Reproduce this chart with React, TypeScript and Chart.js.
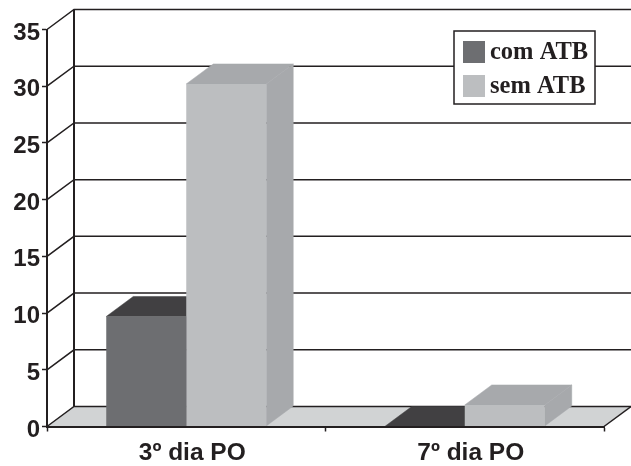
import React, { useEffect, useRef } from "react";
import { Chart, registerables } from "chart.js";

Chart.register(...registerables);

const categories = ["3º dia PO", "7º dia PO"];
const comAtb = [9.7, 0];
const semAtb = [30.2, 1.9];
const seriesLabels = ["com ATB", "sem ATB"];
const frontColors = ["#6d6e71", "#bcbec0"];
const topColors = ["#414042", "#a7a9ac"];
const sideColors = ["#414042", "#a7a9ac"];
const yTicksMax = 35;
const yTicksStep = 5;

const INK = "#231f20";
const FLOOR = "#d1d3d4";
const DX = 27;
const DY = 20;

const poly = (ctx: CanvasRenderingContext2D, pts: number[][], fill: string) => {
  ctx.beginPath();
  pts.forEach((p, i) => (i ? ctx.lineTo(p[0], p[1]) : ctx.moveTo(p[0], p[1])));
  ctx.closePath();
  ctx.fillStyle = fill;
  ctx.fill();
  ctx.strokeStyle = fill;
  ctx.lineWidth = 0.5;
  ctx.stroke();
};

const wallsPlugin = {
  id: "walls",
  beforeDraw(chart: any) {
    const { ctx, scales } = chart;
    const xs = scales.x;
    const ys = scales.y;
    const left = xs.left;
    const right = xs.right;
    const bottom = ys.getPixelForValue(0);
    const top = ys.getPixelForValue(yTicksMax);
    ctx.save();
    ctx.fillStyle = "#ffffff";
    ctx.fillRect(0, 0, chart.width, chart.height);
    poly(
      ctx,
      [
        [left, bottom],
        [right, bottom],
        [right + DX, bottom - DY],
        [left + DX, bottom - DY],
      ],
      FLOOR
    );
    ctx.strokeStyle = INK;
    ctx.lineWidth = 1.5;
    ys.ticks.forEach((t: any) => {
      const y = ys.getPixelForValue(t.value);
      ctx.beginPath();
      ctx.moveTo(left, y);
      ctx.lineTo(left + DX, y - DY);
      ctx.lineTo(right + DX, y - DY);
      ctx.stroke();
    });
    ctx.lineWidth = 2;
    ctx.beginPath();
    ctx.moveTo(left + DX, top - DY);
    ctx.lineTo(left + DX, bottom - DY);
    ctx.stroke();
    ctx.lineWidth = 1.5;
    ctx.beginPath();
    ctx.moveTo(right, bottom);
    ctx.lineTo(right + DX, bottom - DY);
    ctx.stroke();
    ctx.restore();
  },
  beforeDatasetsDraw(chart: any) {
    const { ctx } = chart;
    ctx.save();
    // legend box, above the back wall's grid lines
    const bx = 454;
    const by = 31;
    ctx.fillStyle = "#ffffff";
    ctx.fillRect(bx, by, 141, 73);
    ctx.strokeStyle = INK;
    ctx.lineWidth = 1.5;
    ctx.strokeRect(bx, by, 141, 73);
    ctx.font = 'bold 24.5px "Liberation Serif"';
    ctx.textBaseline = "alphabetic";
    chart.data.datasets.forEach((ds: any, i: number) => {
      const y = by + 10 + i * 34;
      ctx.fillStyle = ds.backgroundColor;
      ctx.fillRect(bx + 9, y, 22, 22);
      ctx.fillStyle = INK;
      ctx.fillText(ds.label, bx + 36, y + 18);
    });
    // depth faces of the bars
    chart.data.datasets.forEach((_: any, i: number) => {
      chart.getDatasetMeta(i).data.forEach((bar: any) => {
        const { x, y, base, width } = bar.getProps(["x", "y", "base", "width"], true);
        const l = x - width / 2;
        const r = x + width / 2;
        poly(
          ctx,
          [
            [r, base],
            [r + DX, base - DY],
            [r + DX, y - DY],
            [r, y],
          ],
          sideColors[i]
        );
        poly(
          ctx,
          [
            [l, y],
            [r, y],
            [r + DX, y - DY],
            [l + DX, y - DY],
          ],
          topColors[i]
        );
      });
    });
    ctx.restore();
  },
};

export default function App() {
  const ref = useRef<HTMLCanvasElement>(null);
  useEffect(() => {
    const chart = new Chart(ref.current as HTMLCanvasElement, {
      type: "bar",
      data: {
        labels: categories,
        datasets: [
          { label: seriesLabels[0], data: comAtb, backgroundColor: frontColors[0] },
          { label: seriesLabels[1], data: semAtb, backgroundColor: frontColors[1] },
        ],
      },
      plugins: [wallsPlugin],
      options: {
        responsive: false,
        animation: false,
        layout: { autoPadding: false, padding: { left: 0, top: 29.5, right: 27, bottom: 0 } },
        datasets: { bar: { categoryPercentage: 0.5745, barPercentage: 1, borderWidth: 0 } },
        plugins: { legend: { display: false }, tooltip: { enabled: false }, title: { display: false } },
        scales: {
          x: {
            afterFit: (s: any) => {
              s.height = 39.5;
            },
            grid: { drawOnChartArea: false, tickLength: 5, tickColor: INK, tickWidth: 1.5 },
            border: { color: INK, width: 2, z: 1 },
            ticks: {
              color: INK,
              font: { family: '"Liberation Sans"', weight: "bold", size: 24.5 },
              padding: 7,
              labelOffset: 6,
              maxRotation: 0,
              autoSkip: false,
            },
          },
          y: {
            min: 0,
            max: yTicksMax,
            afterFit: (s: any) => {
              s.width = 47;
            },
            grid: { drawOnChartArea: false, tickLength: 5, tickColor: INK, tickWidth: 1.5 },
            border: { color: INK, width: 2 },
            ticks: {
              stepSize: yTicksStep,
              color: INK,
              font: { family: '"Liberation Sans"', weight: "bold", size: 24 },
              padding: 2,
              labelOffset: 3.5,
            },
          },
        },
      } as any,
    });
    return () => chart.destroy();
  }, []);
  return (
    <div style={{ position: "fixed", left: 0, top: 0, width: 631, height: 466, background: "#fff" }}>
      <canvas ref={ref} width={631} height={466} style={{ display: "block" }} />
    </div>
  );
}
